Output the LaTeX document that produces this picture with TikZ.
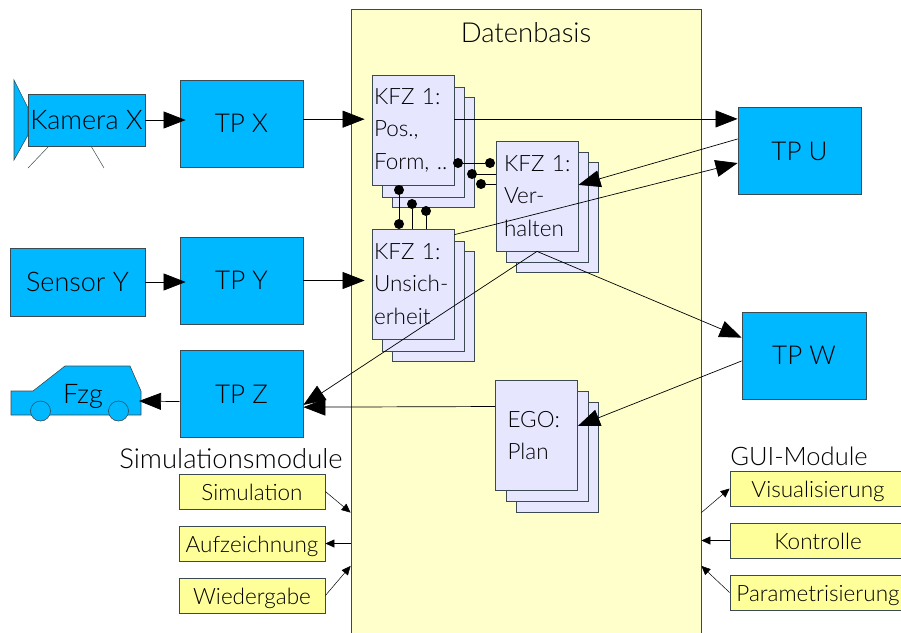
\documentclass[tikz,border=0pt]{standalone}
\usepackage{fontspec}
\setmainfont{Lato}[UprightFont=* Light]
\usetikzlibrary{arrows.meta}
\definecolor{tpblue}{HTML}{00B8FF}
\definecolor{dbyellow}{HTML}{FFFFCC}
\definecolor{modyellow}{HTML}{FFFF99}
\definecolor{pagelila}{HTML}{E6E6FF}
\definecolor{edgegray}{HTML}{3A4A50}
\tikzset{
  tpbox/.style={draw=edgegray,fill=tpblue,line width=0.8pt,inner sep=0pt,minimum width=123,minimum height=87,font=\fontsize{26}{30}\selectfont},
  modbox/.style={draw=edgegray,fill=modyellow,line width=0.8pt,inner sep=0pt,minimum height=35,text height=20,text depth=3,font=\fontsize{22.5}{26}\selectfont},
  page/.style={draw=edgegray,fill=pagelila,line width=0.8pt,minimum width=82,minimum height=110,inner ysep=0pt,inner xsep={(82pt-#1pt)/2},text width=#1,align=left,font=\fontsize{22.5}{32.5}\selectfont},
  page/.default=78,
  dot/.style={circle,fill=black,inner sep=0pt,minimum size=10},
  bigarrow/.style={-{Triangle[length=22pt,width=17pt]},line width=0.7pt},
  smallarrow/.style={-{Triangle[length=9pt,width=8pt]},line width=0.5pt},
  link/.style={line width=0.8pt}
}
\begin{document}
\begin{tikzpicture}[x=1pt,y=-1pt]
\useasboundingbox (0,0) rectangle (901,632);
\clip (0,0) rectangle (901,632);

\node[draw=edgegray,fill=dbyellow,line width=0.8pt,minimum width=350,minimum height=631] (db) at (526,324.5) {};
\node[font=\fontsize{27.5}{30}\selectfont] (dbtitle) at (526,33) {Datenbasis};

% Kamera
\draw[edgegray,fill=tpblue,line width=0.6pt] (28,108) -- (14,80) -- (14,160) -- (28,135) -- cycle;
\draw[edgegray,line width=0.5pt] (49,146) -- (28,168);
\draw[edgegray,line width=0.5pt] (91,146) -- (104,168);
\node[tpbox,minimum width=117,minimum height=52,font=\fontsize{27}{30}\selectfont] (kamera) at (86.5,120) {Kamera X};
\node[tpbox] (tpx) at (241.5,123.5) {TP X};
\node[tpbox,minimum width=135,minimum height=68,font=\fontsize{27}{30}\selectfont] (sensor) at (77.5,282) {Sensor Y};
\node[tpbox] (tpy) at (241.5,280.5) {TP Y};
\node[tpbox] (tpz) at (241.5,394) {TP Z};
\node[tpbox] (tpu) at (799.5,151) {TP U};
\node[tpbox,minimum width=124] (tpw) at (804,355.5) {TP W};

% Fahrzeug
\draw[edgegray,fill=tpblue,line width=0.6pt] (11,391) -- (33,391) -- (65,366) -- (130,366) -- (141,391) -- (141,415) -- (11,415) -- cycle;
\draw[edgegray,fill=tpblue,line width=0.6pt] (40.5,411) circle [radius=10];
\draw[edgegray,fill=tpblue,line width=0.6pt] (118.5,411) circle [radius=10];
\node[font=\fontsize{27}{30}\selectfont] (fzg) at (83,396) {Fzg};
\coordinate (carback) at (139,401);

% Datenbasis
\node[page] (pos3) at (433.5,152) {};
\node[page] (pos2) at (423.5,142) {};
\node[page] (pos) at (413,130) {KFZ 1:\\Pos.,\\Form, ..};
\node[page] (uns3) at (433.5,306) {};
\node[page] (uns2) at (423.5,296) {};
\node[page] (uns) at (413,284) {KFZ 1:\\Unsich-\\erheit};
\node[page] (ver3) at (557.5,217.5) {};
\node[page] (ver2) at (547.5,207.5) {};
\node[page=66] (ver) at (537,196) {\mbox{KFZ 1:}\\Ver-\\halten};
\node[page] (ego3) at (557.5,457) {};
\node[page] (ego2) at (547.5,446.5) {};
\node[page=58] (ego) at (536.5,435.5) {EGO:\\Plan};

\node[dot] (pa) at (458,163) {};
\node[dot] (va) at (490,163) {};
\node[dot] (pb) at (472,174) {};
\node[dot] (pc) at (481,184) {};
\node[dot] (ua) at (399,190) {};
\node[dot] (ub) at (399,224) {};
\node[dot] (uc) at (412,204) {};
\node[dot] (ud) at (426,211) {};
\draw[link] (pa) -- (va);
\draw[link] (pb) -- (pb -| ver.west);
\draw[link] (pc) -- (pc -| ver.west);
\draw[link] (ua) -- (ub);
\draw[link] (uc) -- (uc |- uns.north);
\draw[link] (ud) -- (ud |- uns.north);

\draw[bigarrow,shorten >=-6pt] (kamera.east) -- (kamera.east -| tpx.west);
\draw[bigarrow,shorten >=-6pt] (sensor.east) -- (sensor.east -| tpy.west);
\draw[bigarrow,shorten >=7pt] (tpx.4) -- (tpx.4 -| pos.west);
\draw[bigarrow,shorten >=7pt] (tpy.east) -- (tpy.east -| uns.west);
\draw[bigarrow] (pos.15) -- (pos.15 -| tpu.west);
\draw[bigarrow] (uns.50) -- (tpu.191);
\draw[bigarrow] (tpu.169) -- (ver.15);
\draw[bigarrow] (ver.south) -- (tpw.164);
\draw[bigarrow] (ver.south) -- (tpz.-10);
\draw[bigarrow] (tpw.185) -- (ego.13);
\draw[bigarrow] (ego.145.5) -- (tpz.-12);
\draw[bigarrow] (tpz.187) -- (carback);

% Simulationsmodule
\node[font=\fontsize{27.5}{30}\selectfont] (simlabel) at (231,459) {Simulationsmodule};
\node[modbox,minimum width=146] (simu) at (252,491.5) {Simulation};
\node[modbox,minimum width=146] (aufz) at (252,543.5) {Aufzeichnung};
\node[modbox,minimum width=146] (wieder) at (252,595.5) {Wiedergabe};
\draw[smallarrow] (simu.east) -- (db.227.9);
\draw[smallarrow] (aufz.east -| db.west) -- (aufz.east);
\draw[smallarrow] (wieder.east) -- (db.234.7);

% GUI-Module
\node[font=\fontsize{25.5}{30}\selectfont] (guilabel) at (799,456) {GUI-Module};
\node[modbox,minimum width=176] (visu) at (818,488.5) {Visualisierung};
\node[modbox,minimum width=176] (kontr) at (818,540.5) {Kontrolle};
\node[modbox,minimum width=176] (param) at (818,592.5) {Parametrisierung};
\draw[smallarrow] (db.-47.6) -- (visu.west);
\draw[smallarrow] (kontr.west) -- (kontr.west -| db.east);
\draw[smallarrow] (param.west) -- (db.-54.4);
\end{tikzpicture}
\end{document}
